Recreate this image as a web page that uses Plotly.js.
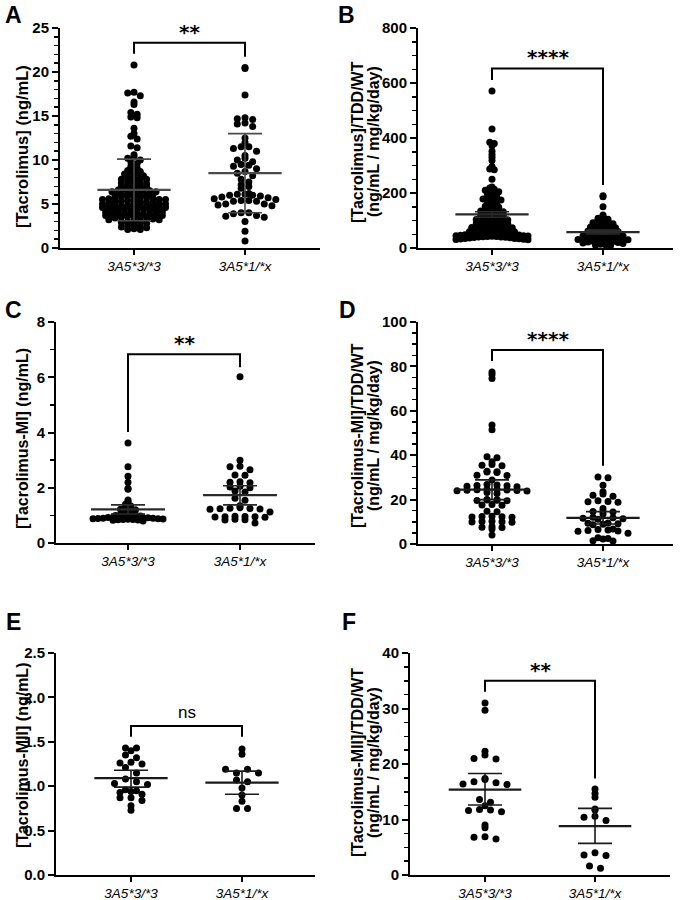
<!DOCTYPE html>
<html>
<head>
<meta charset="utf-8">
<script src="https://cdn.plot.ly/plotly-3.0.1.min.js"></script>
<style>
  html, body { margin: 0; padding: 0; background: #fff; }
  #chart { width: 680px; height: 900px; }
</style>
</head>
<body>
<div id="chart"></div>
<script>
// CYP3A5 genotype groups
const genotypes = ['3A5*3/*3', '3A5*1/*x'];

// A: tacrolimus trough concentration (ng/mL)
const tacConc33 = [20.8, 17.7, 17.6, 17.3, 16.6, 16.3, 15.4, 15.2, 14.9, 14.8, 13.6, 13.0, 12.7, 12.4, 11.6, 11.4, 10.6, 10.4, 10.2, 10.0, 9.8, 9.6,
  9.3, 9.1, 9.0, 8.8, 8.7, 8.6, 8.5, 8.4, 8.2, 8.1, 8.0,
  7.9, 7.8, 7.8, 7.7, 7.6, 7.5, 7.4, 7.3, 7.2, 7.2, 7.1, 7.0,
  6.9, 6.8, 6.8, 6.7, 6.6, 6.6, 6.5, 6.4, 6.4, 6.3, 6.2, 6.2, 6.1, 6.0, 6.0, 6.0,
  5.9, 5.9, 5.8, 5.8, 5.7, 5.7, 5.6, 5.6, 5.5, 5.5, 5.5, 5.4, 5.4, 5.3, 5.3, 5.2, 5.2, 5.1, 5.1, 5.0, 5.0, 5.0,
  4.9, 4.9, 4.9, 4.8, 4.8, 4.8, 4.7, 4.7, 4.6, 4.6, 4.6, 4.5, 4.5, 4.4, 4.4, 4.3, 4.3, 4.2, 4.2, 4.1, 4.1, 4.0, 4.0, 4.0,
  3.9, 3.9, 3.8, 3.8, 3.8, 3.7, 3.7, 3.6, 3.6, 3.5, 3.5, 3.4, 3.4, 3.3, 3.2, 3.2, 3.1, 3.0, 3.0,
  2.9, 2.8, 2.7, 2.6, 2.5, 2.4, 2.3, 2.2, 2.1, 2.1];
const tacConc1x = [20.5, 20.4, 17.4, 14.8, 14.7, 14.6, 14.2, 14.1, 13.8, 12.5, 12.0, 11.5, 11.5, 11.3, 11.0, 10.5, 10.2, 10.0, 9.8, 9.5,
  9.4, 9.3, 9.0, 8.7, 8.5, 8.2, 7.8, 7.5, 7.2, 7.0, 6.8, 6.2, 6.1, 6.1, 6.0, 6.0, 5.9, 5.8, 5.7, 5.6, 5.5, 5.4, 5.4, 5.3,
  5.3, 5.0, 5.0, 4.9, 4.8, 4.0, 4.0, 3.9, 3.7, 3.6, 3.5, 3.0, 1.9, 0.8];
const tacConcMean = [6.6, 8.5];
const tacConcLow = [3.1, 4.0];
const tacConcHigh = [10.1, 13.0];

// B: dose-normalised tacrolimus (ng/mL / mg/kg/day)
const tacDose33 = [571, 433, 385, 380, 372, 352, 340, 330, 318, 296, 287, 285, 250, 222, 218, 214, 210, 205, 200, 196, 192, 188,
  185, 182, 178, 175, 170, 166, 162, 158, 155, 152,
  148, 145, 142, 140, 137, 135, 132, 130, 127, 125, 122, 120, 118, 116, 114, 112, 110, 108, 106, 104, 102, 100,
  98, 96, 94, 92, 90, 89, 88, 86, 85, 84, 82, 80, 79, 78, 76, 75, 74, 72, 70, 69, 68, 66, 65, 64, 62, 61, 60,
  59, 58, 57, 56, 55, 54, 53, 52, 51, 50, 50, 49, 48, 47, 46, 45, 45, 44, 43, 42, 42, 41, 40, 40, 39, 38, 37, 36, 35, 35, 34, 33, 32, 31, 30];
const tacDose1x = [190, 186, 150, 120, 115, 108, 105, 100, 98, 95, 92, 88, 85, 82, 80, 78, 76, 74, 72, 70, 68, 66, 64, 62, 60,
  58, 56, 54, 52, 50, 48, 46, 45, 44, 42, 40, 38, 37, 36, 35, 34, 33, 32, 31, 30, 28, 27, 26, 25, 24, 22, 20, 18, 16, 14, 12, 10, 8];
const tacDoseMean = [122, 58];
const tacDoseLow = [112, 51];
const tacDoseHigh = [132, 65];

// C: tacrolimus metabolite MI concentration (ng/mL)
const miConc33 = [3.62, 2.76, 2.42, 2.20, 1.98, 1.95, 1.56, 1.50, 1.40, 1.35, 1.30, 1.25, 1.22, 1.20, 1.15, 1.12, 1.10, 1.08, 1.05, 1.03, 1.02, 1.00,
  0.98, 0.97, 0.96, 0.95, 0.95, 0.94, 0.93, 0.92, 0.92, 0.91, 0.90, 0.90, 0.89, 0.88, 0.88, 0.87, 0.86, 0.85, 0.85, 0.84, 0.83, 0.82, 0.80];
const miConc1x = [6.02, 3.00, 2.78, 2.76, 2.65, 2.46, 2.45, 2.22, 2.20, 2.18, 2.05, 2.03, 2.00, 1.88, 1.85, 1.62, 1.55, 1.35, 1.28, 1.26,
  1.25, 1.24, 1.23, 1.22, 1.12, 0.97, 0.96, 0.95, 0.95, 0.94, 0.93, 0.86, 0.84, 0.83, 0.72];
const miConcMean = [1.22, 1.73];
const miConcLow = [1.05, 1.38];
const miConcHigh = [1.38, 2.07];

// D: dose-normalised MI (ng/mL / mg/kg/day)
const miDose33 = [77.5, 76.3, 74.6, 53.6, 51.5,
  39.3, 38.8, 37.0, 35.8, 35.5, 35.3, 32.8, 32.6, 32.4, 32.2, 31.0, 30.8,
  28.8, 26.8, 26.6, 26.4, 26.2, 26.0, 25.8,
  24.6, 24.5, 24.4, 24.3, 24.2, 24.1, 24.0, 23.9, 23.2, 22.8,
  20.0, 19.9, 19.8, 19.7, 19.6, 19.5, 17.8, 17.6, 17.4,
  14.8, 14.5, 12.5, 12.4, 12.3, 12.2, 12.1, 10.2, 10.1, 10.0, 9.9, 9.8,
  7.9, 7.6, 7.4, 6.8, 4.0];
const miDose1x = [30.2, 29.8, 26.5, 23.5, 22.5, 22.0, 21.5, 19.5, 19.2, 19.0, 18.8, 16.0, 14.8, 14.6, 14.4, 13.5, 12.0, 11.8, 11.6, 11.4,
  11.2, 9.5, 9.3, 9.1, 8.9, 8.7, 6.8, 6.5, 6.3, 6.1, 5.9, 5.7, 4.8, 2.8, 2.5, 2.2, 1.5, 1.3];
const miDoseMean = [24.5, 11.8];
const miDoseLow = [20.0, 9.0];
const miDoseHigh = [28.9, 14.6];

// E: tacrolimus metabolite MII concentration (ng/mL)
const miiConc33 = [1.43, 1.43, 1.40, 1.35, 1.32, 1.27, 1.26, 1.25, 1.21, 1.15, 1.08, 1.05,
  1.03, 1.02, 0.96, 0.95, 0.94, 0.93, 0.91, 0.87, 0.87, 0.84, 0.78, 0.73];
const miiConc1x = [1.42, 1.36, 1.15, 1.19, 1.19, 1.15, 1.07, 1.05, 0.98, 0.90, 0.83, 0.75, 0.75];
const miiConcMean = [1.09, 1.04];
const miiConcLow = [0.99, 0.91];
const miiConcHigh = [1.18, 1.17];

// F: dose-normalised MII (ng/mL / mg/kg/day)
const miiDose33 = [31.0, 29.7, 22.3, 21.6, 21.0, 20.9, 17.4, 17.2, 16.8, 16.6, 16.4, 16.3,
  13.6, 13.1, 12.5, 11.8, 11.7, 11.6, 11.4, 9.0, 8.5, 6.9, 6.8, 6.5];
const miiDose1x = [15.5, 14.7, 14.0, 11.9, 11.7, 10.6, 10.4, 9.8, 4.0, 3.6, 3.5, 1.6, 1.2];
const miiDoseMean = [15.4, 8.8];
const miiDoseLow = [12.6, 5.7];
const miiDoseHigh = [18.3, 12.0];

const significance = ['**', '****', '**', '****', 'ns', '**'];

const FONT = 'Liberation Sans, Arial, Helvetica, sans-serif';
const W = 680, H = 900;

// Panel geometry (pixel box: left, top, right, bottom) and styling.
// bin/step: row height and horizontal dot spacing (px) of the scatter layout, per group.
const panels = [
  { letter: 'A', g: [tacConc33, tacConc1x], mean: tacConcMean, lo: tacConcLow, hi: tacConcHigh,
    box: [60, 28, 320, 248], cats: [134, 245], yMax: 25, dtick: 5, minor: 1, dec: 0,
    title: ['[Tacrolimus] (ng/mL)'], titleX: [22], titleY: 147, titleSize: 16.5,
    bracket: [22.08, 23.33, 21.74], bin: [4, 6], step: [6.3, 7.7], stat: '#4a4a4a', letterPos: [3, 15] },
  { letter: 'B', g: [tacDose33, tacDose1x], mean: tacDoseMean, lo: tacDoseLow, hi: tacDoseHigh,
    box: [418, 28, 673, 248], cats: [492, 603], yMax: 800, dtick: 200, minor: 50, dec: 0,
    title: ['[Tacrolimus]/TDD/WT', '(ng/mL / mg/kg/day)'], titleX: [357, 373], titleY: 142, titleSize: 16,
    bracket: [611, 653, 229], bin: [4, 4], step: [4.5, 5], stat: '#2a2a2a', letterPos: [336, 15] },
  { letter: 'C', g: [miConc33, miConc1x], mean: miConcMean, lo: miConcLow, hi: miConcHigh,
    box: [56, 322, 315, 543], cats: [128, 240], yMax: 8, dtick: 2, minor: 1, dec: 0,
    title: ['[Tacrolimus-MI] (ng/mL)'], titleX: [22], titleY: 439, titleSize: 16,
    bracket: [4.02, 6.83, 6.36], bin: [3, 6], step: [5, 10], stat: '#2a2a2a', letterPos: [3, 310] },
  { letter: 'D', g: [miDose33, miDose1x], mean: miDoseMean, lo: miDoseLow, hi: miDoseHigh,
    box: [418, 322, 673, 544], cats: [492, 603], yMax: 100, dtick: 20, minor: 5, dec: 0,
    title: ['[Tacrolimus-MI]/TDD/WT', '(ng/mL / mg/kg/day)'], titleX: [357, 373], titleY: 436, titleSize: 16,
    bracket: [82.4, 87.4, 35.3], bin: [4, 5], step: [10, 10], stat: '#1a1a1a', letterPos: [337, 310] },
  { letter: 'E', g: [miiConc33, miiConc1x], mean: miiConcMean, lo: miiConcLow, hi: miiConcHigh,
    box: [56, 653, 315, 875], cats: [131, 242], yMax: 2.5, dtick: 0.5, minor: null, dec: 1,
    title: ['[Tacrolimus-MII] (ng/mL)'], titleX: [22], titleY: 756, titleSize: 16,
    bracket: [1.557, 1.678, 1.557], bin: [6, 6], step: [11, 11], stat: '#1a1a1a', letterPos: [4, 622] },
  { letter: 'F', g: [miiDose33, miiDose1x], mean: miiDoseMean, lo: miiDoseLow, hi: miiDoseHigh,
    box: [410, 653, 670, 875], cats: [485, 595], yMax: 40, dtick: 10, minor: 2.5, dec: 0,
    title: ['[Tacrolimus-MII]/TDD/WT', '(ng/mL / mg/kg/day)'], titleX: [357, 373], titleY: 763, titleSize: 16,
    bracket: [33.0, 35.0, 17.4], bin: [6, 6], step: [11, 11], stat: '#1a1a1a', letterPos: [340, 622] }
];

// Row-binned scatter layout: points are grouped into horizontal rows of binPx
// height, and each row is spread symmetrically about the group centre.
function rowOffsets(values, binPx, stepPx, pxPerY) {
  const rows = new Map();
  values.forEach((v, i) => {
    const b = Math.floor(v * pxPerY / binPx);
    if (!rows.has(b)) rows.set(b, []);
    rows.get(b).push(i);
  });
  const out = new Array(values.length).fill(0);
  rows.forEach(idx => {
    const n = idx.length;
    const slots = [];
    for (let k = 0; k < n; k++) slots.push((k - (n - 1) / 2) * stepPx);
    // fill from the centre outwards, alternating sides
    slots.sort((a, b) => (Math.abs(a) - Math.abs(b)) || (a - b));
    idx.forEach((pi, k) => { out[pi] = slots[k]; });
  });
  return out;
}

const traces = [];
const shapes = [];
const annotations = [];
const layout = {
  width: W, height: H,
  margin: { l: 0, r: 0, t: 0, b: 0 },
  paper_bgcolor: '#fff', plot_bgcolor: '#fff',
  showlegend: false,
  font: { family: FONT, color: '#000' }
};

panels.forEach((p, i) => {
  const s = i === 0 ? '' : String(i + 1);
  const [x0, y0, x1, y1] = p.box;
  const unit = p.cats[1] - p.cats[0];
  const r0 = -(p.cats[0] - x0) / unit;
  const r1 = 1 + (x1 - p.cats[1]) / unit;
  const pxPerY = (y1 - y0) / p.yMax;
  const xa = 'x' + s, ya = 'y' + s;

  const yTicks = [];
  for (let v = 0; v <= p.yMax + 1e-9; v += p.dtick) yTicks.push(+v.toFixed(3));

  layout['xaxis' + s] = {
    domain: [x0 / W, x1 / W], range: [r0, r1], anchor: ya,
    tickvals: [0, 1], ticktext: genotypes.map(g => '<i>' + g + '</i>'),
    showline: true, linewidth: 2, linecolor: '#000',
    ticks: 'outside', ticklen: 5, tickwidth: 2, tickcolor: '#000',
    tickfont: { family: FONT, size: 13.5, color: '#000' },
    showgrid: false, zeroline: false, fixedrange: true
  };
  const yax = {
    domain: [1 - y1 / H, 1 - y0 / H], range: [0, p.yMax], anchor: xa,
    tickmode: 'array', tickvals: yTicks, ticktext: yTicks.map(v => '<b>' + v.toFixed(p.dec) + '</b>'),
    showline: true, linewidth: 2, linecolor: '#000',
    ticks: 'outside', ticklen: 6, tickwidth: 2, tickcolor: '#000',
    tickfont: { family: FONT, size: 15, color: '#000' },
    showgrid: false, zeroline: false, fixedrange: true
  };
  if (p.minor) {
    yax.minor = { tickmode: 'linear', tick0: 0, dtick: p.minor, ticks: 'outside', ticklen: 4, tickwidth: 1.5, tickcolor: '#000', showgrid: false };
  }
  layout['yaxis' + s] = yax;

  // individual patients
  p.g.forEach((vals, gi) => {
    const off = rowOffsets(vals, p.bin[gi], p.step[gi], pxPerY);
    traces.push({
      type: 'scatter', mode: 'markers', xaxis: xa, yaxis: ya,
      x: vals.map((v, k) => gi + off[k] / unit), y: vals,
      marker: { size: 7, color: '#000', line: { width: 0 } },
      cliponaxis: false, hoverinfo: 'y'
    });
  });

  // mean lines
  p.mean.forEach((m, gi) => {
    traces.push({
      type: 'scatter', mode: 'lines', xaxis: xa, yaxis: ya,
      x: [gi - 0.33, gi + 0.33], y: [m, m],
      line: { color: p.stat, width: 2.2 }, hoverinfo: 'skip'
    });
  });
  // error bars
  traces.push({
    type: 'scatter', mode: 'markers', xaxis: xa, yaxis: ya,
    x: [0, 1], y: p.mean,
    marker: { size: 2, color: 'rgba(0,0,0,0)' },
    error_y: {
      type: 'data', symmetric: false,
      array: p.hi.map((h, k) => h - p.mean[k]),
      arrayminus: p.lo.map((l, k) => p.mean[k] - l),
      width: 17, thickness: 1.6, color: p.stat
    },
    hoverinfo: 'skip'
  });

  // significance bracket
  const [legL, top, legR] = p.bracket;
  shapes.push({
    type: 'path', xref: xa, yref: ya,
    path: `M0,${legL} L0,${top} L1,${top} L1,${legR}`,
    line: { color: '#000', width: 2 }
  });
  const sig = significance[i];
  annotations.push({
    xref: xa, yref: ya, x: 0.5, y: top, yshift: sig === 'ns' ? 13 : 11,
    xanchor: 'center', yanchor: 'middle', showarrow: false,
    text: sig === 'ns' ? sig : '<b>' + sig + '</b>',
    font: sig === 'ns'
      ? { family: FONT, size: 17, color: '#000' }
      : { family: 'DejaVu Sans, sans-serif', size: 20, color: '#000' }
  });

  // y-axis title lines
  p.title.forEach((t, li) => {
    annotations.push({
      xref: 'paper', yref: 'paper', x: p.titleX[li] / W, y: 1 - p.titleY / H,
      xanchor: 'center', yanchor: 'middle', textangle: -90, showarrow: false, text: '<b>' + t + '</b>',
      font: { family: FONT, size: p.titleSize, color: '#000' }
    });
  });

  // panel letter
  annotations.push({
    xref: 'paper', yref: 'paper', x: p.letterPos[0] / W, y: 1 - p.letterPos[1] / H,
    xanchor: 'left', yanchor: 'middle', showarrow: false, text: '<b>' + p.letter + '</b>',
    font: { family: FONT, size: 23, color: '#000' }
  });
});

layout.shapes = shapes;
layout.annotations = annotations;

Plotly.newPlot('chart', traces, layout, { displayModeBar: false, staticPlot: true });
</script>
</body>
</html>
